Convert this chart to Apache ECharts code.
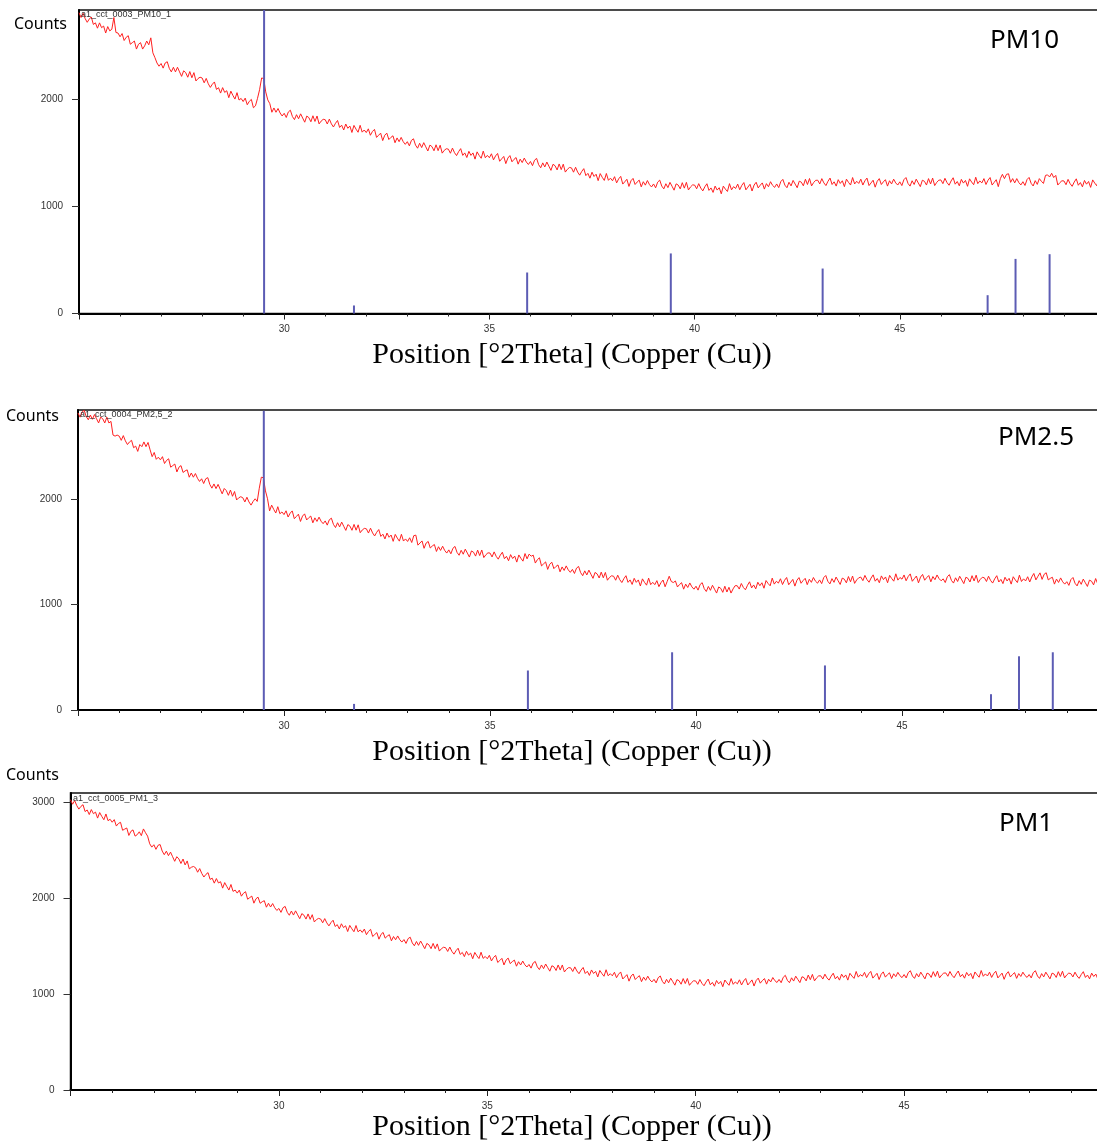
<!DOCTYPE html>
<html>
<head>
<meta charset="utf-8">
<script src="https://cdn.jsdelivr.net/npm/echarts@6/dist/echarts.min.js"></script>
<style>
html,body{margin:0;padding:0;background:#fff;}
#chart{width:1097px;height:1146px;}
</style>
</head>
<body>
<div id="chart"></div>
<script>
// Scan grid (°2Theta)
const twoThetaStart = 25.0;
const twoThetaStep = 0.05;

const pm10Counts = [
2810,2765,2805,2755,2720,2750,2770,2700,2715,2665,2715,2670,2685,2620,2680,2640,2655,2765,2625,2620,
2585,2615,2550,2580,2595,2515,2530,2545,2470,2515,2530,2470,2500,2545,2510,2575,2435,2390,2340,2310,
2335,2292,2340,2352,2290,2257,2300,2257,2300,2257,2215,2267,2250,2207,2260,2202,2250,2172,2195,2207,
2200,2155,2196,2146,2112,2142,2163,2093,2109,2059,2110,2065,2081,2016,2077,2037,2003,2063,1994,2009,
1980,2012,1950,1982,2000,1922,1940,2010,2090,2200,2195,2070,1995,1960,1880,1920,1880,1915,1873,1845,
1870,1831,1882,1899,1840,1811,1857,1819,1865,1826,1787,1844,1830,1791,1847,1794,1845,1771,1797,1814,
1810,1770,1816,1771,1742,1777,1803,1738,1759,1714,1770,1730,1751,1691,1757,1722,1693,1758,1694,1714,
1690,1725,1665,1700,1720,1645,1665,1685,1615,1665,1685,1625,1645,1660,1595,1640,1605,1645,1605,1580,
1605,1566,1617,1632,1573,1544,1590,1550,1596,1557,1518,1573,1559,1520,1576,1521,1572,1498,1524,1539,
1535,1497,1545,1502,1475,1512,1540,1477,1500,1457,1515,1477,1500,1442,1510,1477,1450,1517,1455,1477,
1455,1492,1435,1472,1495,1422,1445,1467,1400,1452,1475,1417,1440,1457,1395,1442,1410,1452,1415,1392,
1420,1381,1432,1449,1390,1361,1407,1369,1415,1376,1337,1394,1380,1341,1397,1344,1395,1321,1347,1364,
1360,1320,1366,1321,1292,1327,1353,1288,1309,1264,1320,1280,1301,1241,1307,1272,1243,1308,1244,1264,
1240,1278,1220,1258,1281,1209,1231,1254,1187,1240,1262,1205,1228,1246,1183,1231,1199,1242,1204,1182,
1210,1174,1227,1246,1190,1164,1212,1176,1225,1189,1152,1211,1200,1164,1222,1171,1225,1154,1182,1201,
1200,1165,1213,1172,1145,1184,1212,1150,1173,1131,1190,1153,1175,1118,1190,1162,1140,1213,1155,1185,
1168,1209,1156,1197,1223,1155,1181,1207,1144,1200,1226,1173,1199,1220,1162,1213,1184,1231,1197,1178,
1210,1176,1232,1253,1199,1175,1226,1192,1243,1209,1175,1236,1227,1193,1254,1205,1261,1192,1223,1244,
1245,1210,1260,1220,1195,1235,1265,1205,1230,1190,1250,1215,1240,1185,1255,1225,1200,1270,1210,1235,
1215,1255,1200,1240,1265,1195,1220,1245,1180,1235,1260,1205,1230,1250,1190,1240,1210,1255,1220,1200,
1230,1195,1250,1270,1215,1190,1240,1205,1255,1220,1185,1245,1235,1200,1260,1210,1265,1195,1225,1245,
1248,1213,1263,1223,1198,1238,1268,1208,1233,1193,1253,1218,1243,1188,1258,1228,1203,1273,1213,1238,
1220,1260,1205,1245,1270,1200,1225,1250,1185,1260,1300,1260,1300,1305,1225,1260,1220,1260,1223,1201,
1231,1196,1251,1271,1216,1191,1241,1206,1260,1235,1215,1290,1295,1275,1310,1270,1290,1200,1222,1240,
1238,1203,1253,1213,1188,1228,1258,1198,1223,1183,1243,1208,1233,1178,1248,1218,1193,1263,1203,1228
];
const pm25Counts = [
2820,2780,2830,2845,2785,2755,2800,2760,2805,2765,2725,2780,2765,2725,2780,2725,2740,2610,2600,2610,
2600,2560,2605,2555,2520,2545,2560,2490,2505,2455,2520,2500,2545,2500,2540,2470,2405,2445,2380,2400,
2375,2405,2340,2370,2385,2305,2320,2335,2260,2305,2320,2255,2270,2280,2210,2250,2210,2245,2200,2170,
2195,2150,2195,2206,2141,2106,2146,2102,2142,2097,2052,2103,2083,2038,2088,2029,2074,1994,2014,2025,
2015,1975,2020,1975,1945,1980,2005,1980,2105,2210,2205,2080,2005,1890,1945,1905,1870,1930,1863,1880,
1855,1891,1832,1869,1890,1816,1837,1859,1790,1841,1862,1804,1825,1841,1777,1824,1790,1831,1792,1769,
1795,1755,1806,1821,1762,1732,1778,1738,1784,1744,1705,1760,1746,1706,1762,1707,1758,1683,1709,1724,
1720,1680,1726,1681,1652,1687,1713,1648,1669,1624,1680,1640,1661,1601,1667,1632,1603,1668,1604,1624,
1600,1635,1590,1655,1660,1565,1585,1605,1535,1585,1600,1538,1557,1571,1505,1550,1515,1555,1515,1490,
1520,1483,1535,1553,1496,1469,1516,1479,1527,1490,1452,1510,1498,1461,1518,1466,1519,1447,1474,1492,
1490,1453,1501,1459,1432,1470,1498,1436,1459,1417,1475,1438,1461,1404,1472,1440,1413,1485,1435,1480,
1460,1470,1395,1427,1445,1368,1387,1406,1335,1384,1403,1342,1362,1377,1312,1358,1325,1368,1330,1307,
1335,1296,1347,1363,1304,1275,1321,1282,1328,1289,1250,1306,1292,1253,1309,1255,1306,1232,1258,1274,
1270,1232,1280,1237,1210,1247,1275,1212,1235,1192,1250,1212,1235,1177,1245,1212,1185,1252,1190,1212,
1190,1228,1171,1209,1234,1170,1220,1270,1220,1210,1225,1168,1191,1209,1147,1195,1163,1206,1169,1147,
1175,1138,1191,1209,1152,1125,1173,1136,1184,1147,1110,1168,1155,1117,1175,1120,1165,1110,1150,1180,
1180,1148,1201,1163,1141,1184,1217,1159,1187,1150,1213,1180,1208,1156,1229,1201,1179,1252,1195,1222,
1205,1246,1191,1232,1258,1189,1214,1240,1176,1232,1257,1203,1229,1250,1190,1241,1212,1258,1223,1204,
1235,1200,1257,1277,1222,1197,1247,1212,1262,1227,1192,1252,1242,1207,1267,1217,1272,1202,1235,1255,
1262,1228,1278,1238,1213,1253,1283,1223,1248,1208,1273,1238,1263,1208,1278,1248,1223,1293,1233,1258,
1242,1282,1227,1267,1292,1222,1247,1272,1207,1262,1287,1232,1257,1277,1217,1267,1237,1282,1247,1227,
1245,1210,1265,1285,1230,1205,1255,1220,1270,1235,1200,1260,1250,1215,1275,1225,1280,1210,1240,1260,
1255,1220,1270,1230,1205,1245,1275,1215,1240,1200,1260,1225,1250,1195,1265,1235,1210,1280,1220,1245,
1225,1265,1215,1263,1296,1235,1270,1302,1240,1288,1303,1235,1250,1260,1195,1243,1211,1254,1217,1195,
1218,1183,1238,1258,1203,1178,1228,1193,1243,1208,1173,1233,1223,1188,1248,1198,1253,1183,1213,1233
];
const pm1Counts = [
3030,2983,3021,2969,2932,2960,2978,2906,2923,2875,2927,2884,2901,2838,2896,2856,2821,2881,2811,2826,
2795,2822,2755,2782,2794,2711,2723,2735,2657,2700,2715,2650,2665,2695,2655,2725,2685,2650,2570,2535,
2560,2512,2554,2562,2494,2456,2493,2446,2483,2435,2387,2435,2412,2364,2411,2349,2391,2308,2325,2333,
2320,2273,2311,2260,2223,2251,2269,2198,2211,2159,2207,2161,2174,2107,2165,2124,2087,2145,2073,2087,
2055,2086,2023,2054,2070,1991,2008,2024,1950,1996,2013,1949,1965,1976,1908,1949,1910,1946,1903,1874,
1895,1854,1903,1916,1855,1824,1868,1826,1870,1829,1788,1841,1825,1784,1838,1781,1830,1754,1778,1791,
1785,1745,1789,1744,1713,1748,1772,1707,1726,1681,1735,1695,1714,1654,1718,1683,1652,1717,1651,1671,
1645,1680,1621,1656,1677,1602,1623,1643,1574,1624,1645,1585,1606,1621,1557,1602,1568,1608,1569,1544,
1570,1530,1580,1595,1535,1505,1550,1510,1555,1515,1475,1530,1515,1475,1530,1475,1525,1450,1475,1490,
1485,1446,1492,1447,1418,1454,1480,1415,1436,1392,1448,1408,1429,1370,1436,1401,1372,1438,1374,1394,
1370,1406,1347,1384,1405,1331,1352,1374,1305,1356,1377,1319,1340,1356,1292,1339,1305,1346,1307,1284,
1310,1272,1325,1342,1285,1257,1305,1267,1315,1277,1240,1297,1285,1247,1305,1252,1305,1232,1260,1277,
1275,1237,1285,1242,1214,1252,1279,1216,1239,1196,1253,1216,1238,1180,1248,1215,1187,1255,1192,1214,
1192,1229,1172,1209,1232,1159,1181,1204,1136,1189,1211,1153,1176,1193,1131,1178,1145,1188,1150,1128,
1155,1118,1172,1190,1134,1107,1155,1119,1167,1131,1094,1152,1141,1104,1163,1111,1164,1093,1121,1140,
1138,1103,1153,1113,1088,1128,1158,1098,1123,1083,1143,1108,1133,1078,1148,1118,1093,1163,1103,1128,
1108,1150,1096,1138,1164,1096,1122,1149,1085,1142,1168,1115,1142,1163,1105,1156,1128,1174,1141,1122,
1154,1120,1176,1197,1144,1120,1171,1137,1188,1154,1121,1182,1173,1139,1200,1151,1207,1139,1170,1191,
1192,1158,1209,1170,1147,1188,1219,1160,1186,1147,1209,1175,1201,1147,1218,1189,1165,1237,1178,1204,
1188,1228,1173,1213,1238,1168,1193,1218,1153,1208,1233,1178,1203,1223,1163,1213,1183,1228,1193,1173,
1205,1170,1225,1245,1190,1165,1215,1180,1230,1195,1160,1220,1210,1175,1235,1185,1240,1170,1200,1220,
1222,1187,1237,1197,1172,1212,1242,1182,1207,1167,1227,1192,1217,1162,1232,1202,1177,1247,1187,1212,
1190,1230,1175,1215,1240,1170,1195,1220,1155,1210,1235,1180,1205,1225,1165,1215,1185,1230,1195,1175,
1205,1170,1225,1245,1190,1165,1215,1180,1230,1195,1160,1220,1210,1175,1235,1185,1240,1170,1200,1220,
1215,1180,1230,1190,1165,1205,1235,1175,1200,1160,1220,1185,1210,1155,1225,1195,1170,1240,1180,1205
];

// Reference pattern sticks
const pm10StickPos = [29.51, 31.70, 35.92, 39.42, 43.12, 47.14, 47.82, 48.65];
const pm10StickHeight = [2840, 75, 383, 561, 420, 171, 510, 554];
const pm25StickPos = [29.51, 31.70, 35.92, 39.42, 43.13, 47.16, 47.84, 48.66];
const pm25StickHeight = [2840, 58, 375, 548, 423, 150, 510, 548];

// Texts
const sampleNames = ['a1_cct_0003_PM10_1', 'a1_cct_0004_PM2,5_2', 'a1_cct_0005_PM1_3'];
const panelLabels = ['PM10', 'PM2.5', 'PM1'];
const xTitle = 'Position [°2Theta] (Copper (Cu))';
const yTitle = 'Counts';
const yTickValues = [[0, 1000, 2000], [0, 1000, 2000], [0, 1000, 2000, 3000]];

function toPairs(vals) {
  return vals.map((v, i) => [+(twoThetaStart + i * twoThetaStep).toFixed(2), v]);
}
function sticks(pos, h) {
  return pos.map((p, i) => [p, h[i]]);
}

const panels = [
  { left: 79,   top: 10,  width: 1026, height: 303.5, ymax: 2835, counts: pm10Counts, sp: pm10StickPos, sh: pm10StickHeight },
  { left: 78,   top: 410, width: 1030, height: 300,   ymax: 2848, counts: pm25Counts, sp: pm25StickPos, sh: pm25StickHeight },
  { left: 70.5, top: 793, width: 1042, height: 297,   ymax: 3100, counts: pm1Counts,  sp: null, sh: null }
];

const grid = [], xAxis = [], yAxis = [], series = [];
panels.forEach((p, k) => {
  grid.push({ left: p.left, top: p.top, width: p.width, height: p.height, show: true,
    outerBoundsMode: 'none', containLabel: false,
    borderColor: '#111', borderWidth: 1.5, backgroundColor: 'transparent' });
  xAxis.push({
    type: 'value', gridIndex: k, min: 25, max: 50, interval: 5,
    axisLine: { show: true, onZero: false, lineStyle: { color: '#000', width: 2 } },
    axisTick: { show: true, length: 6, lineStyle: { color: '#222', width: 1 } },
    minorTick: { show: true, splitNumber: 5, length: 3, lineStyle: { color: '#222', width: 1 } },
    axisLabel: { showMinLabel: false, showMaxLabel: false, margin: 11, fontSize: 10, color: '#333', fontFamily: 'Liberation Sans, Arial' },
    splitLine: { show: false }, minorSplitLine: { show: false }
  });
  yAxis.push({
    type: 'value', gridIndex: k, min: 0, max: p.ymax, interval: 1000,
    axisLine: { show: true, onZero: false, lineStyle: { color: '#000', width: 2 } },
    axisTick: { show: true, length: 7, customValues: yTickValues[k], lineStyle: { color: '#333', width: 1 } },
    axisLabel: { customValues: yTickValues[k], formatter: v => String(v), margin: 16, fontSize: 10, color: '#333', fontFamily: 'Liberation Sans, Arial' },
    splitLine: { show: false }
  });
  series.push({
    type: 'line', xAxisIndex: k, yAxisIndex: k, data: toPairs(p.counts),
    showSymbol: false, symbol: 'none', sampling: null, animation: false, z: 2,
    lineStyle: { color: '#ff2020', width: 1 }, itemStyle: { color: '#ff2020' }
  });
  if (p.sp) {
    series.push({
      type: 'bar', xAxisIndex: k, yAxisIndex: k, data: sticks(p.sp, p.sh),
      barWidth: 2, animation: false, z: 3, clip: true,
      itemStyle: { color: '#5c5cb4' }
    });
  }
});

const titleY = [355, 752, 1127];
const countsPos = [[14, 24], [6, 416], [6, 775]];
const pmPos = [[990, 41], [998, 438], [999, 824]];
const samplePos = [[81, 15], [80, 415], [73, 799]];
const graphic = [];
for (let k = 0; k < 3; k++) {
  graphic.push({ type: 'text', x: 572, y: titleY[k], style: { text: xTitle, font: '30px "Liberation Serif", "Times New Roman", serif', fill: '#000', textAlign: 'center', textVerticalAlign: 'middle' } });
  graphic.push({ type: 'text', x: countsPos[k][0], y: countsPos[k][1], style: { text: yTitle, font: '16px "Noto Sans", "Open Sans", sans-serif', fill: '#000', textAlign: 'left', textVerticalAlign: 'middle' } });
  graphic.push({ type: 'text', x: pmPos[k][0], y: pmPos[k][1], style: { text: panelLabels[k], font: '26px "Noto Sans", "Open Sans", sans-serif', fill: '#000', textAlign: 'left', textVerticalAlign: 'middle' } });
  graphic.push({ type: 'text', x: samplePos[k][0], y: samplePos[k][1], z: 10, style: { text: sampleNames[k], font: '9px "Liberation Sans", Arial, sans-serif', fill: '#333', textAlign: 'left', textVerticalAlign: 'middle' } });
}

const chart = echarts.init(document.getElementById('chart'), null, { renderer: 'canvas' });
chart.setOption({
  animation: false,
  backgroundColor: '#fff',
  grid, xAxis, yAxis, series, graphic
});
</script>
</body>
</html>
